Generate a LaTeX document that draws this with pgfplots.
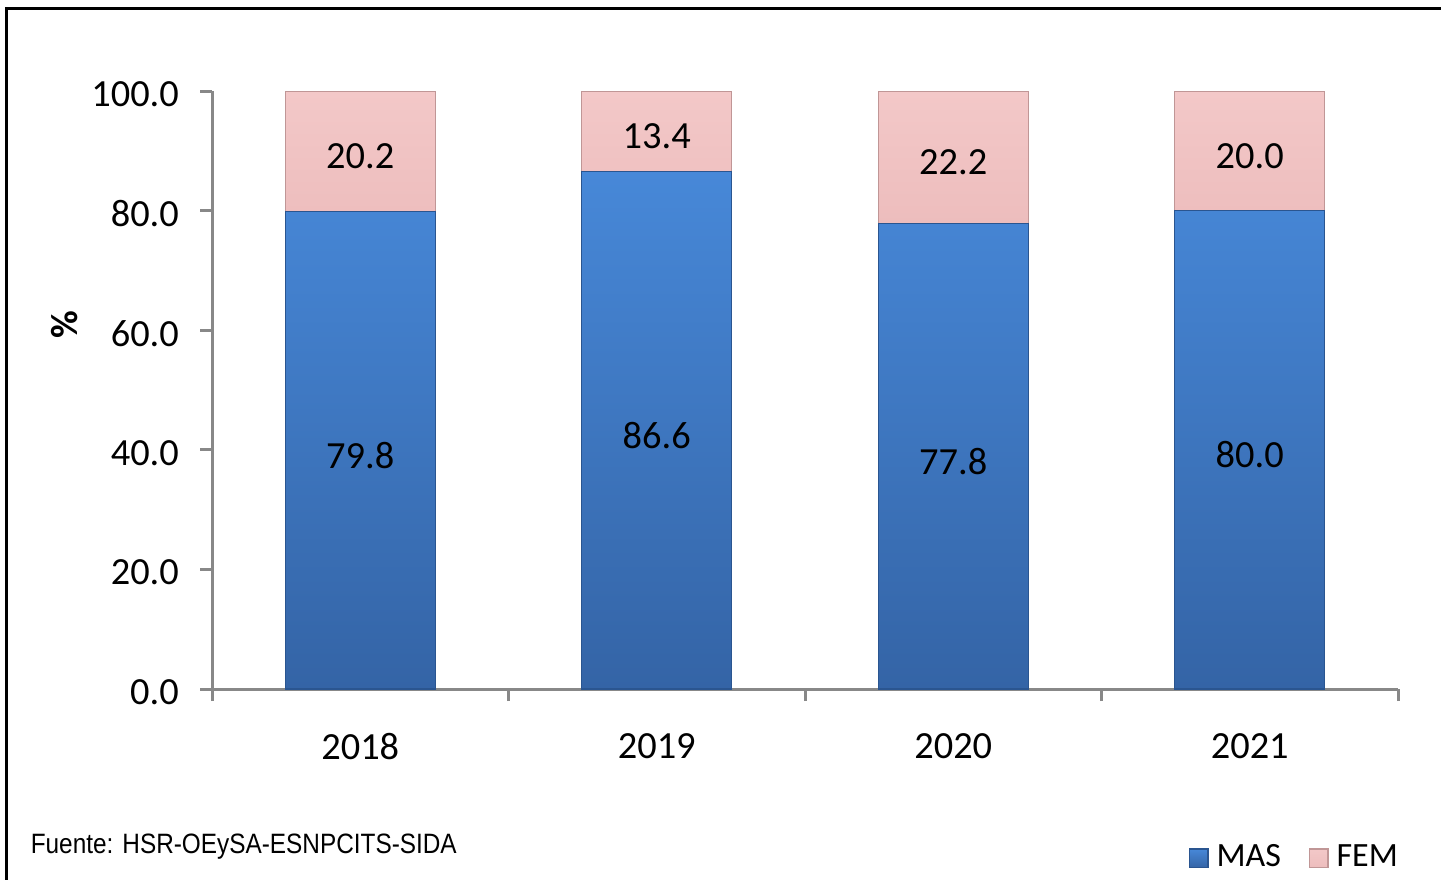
\documentclass[border=0pt]{standalone}
\usepackage{pgfplots}
\pgfplotsset{compat=1.18}
\usepackage{fontspec}
\setmainfont{Carlito}
\newfontfamily\arialfont{Liberation Sans}
\definecolor{bluetop}{HTML}{4788D8}
\definecolor{bluebot}{HTML}{3464A6}
\definecolor{blueedge}{HTML}{2A5590}
\definecolor{pinktop}{HTML}{F3C8C8}
\definecolor{pinkbot}{HTML}{EDBDBD}
\definecolor{pinkedge}{HTML}{C09696}
\definecolor{axisgray}{HTML}{888888}
\pgfplotstableread{
x mas fem
0 79.8 20.2
1 86.6 13.4
2 77.8 22.2
3 80.0 20.0
}\datatable
\begin{document}
\begin{tikzpicture}
\path[use as bounding box] (-53pt,-47.5pt) rectangle (307.25pt,172.25pt);
\draw[line width=0.75pt] (-51.25pt,-48pt) -- (-51.25pt,170pt) -- (308pt,170pt);
\begin{axis}[
  at={(0,0)}, anchor=south west,
  scale only axis, width=296.5pt, height=149.5pt,
  ybar stacked, bar width=37.5pt,
  xmin=-0.5, xmax=3.5, ymin=0, ymax=100,
  axis lines*=left,
  axis line style={axisgray, line width=0.75pt, -},
  every tick/.style={axisgray, line width=0.75pt},
  tick align=outside,
  major tick length=3pt,
  xtick={-0.5,0.5,1.5,2.5,3.5}, xticklabels={},
  extra x ticks={0,1,2,3},
  extra x tick labels={2018,2019,2020,2021},
  extra x tick style={major tick length=0pt, tick label style={yshift=-7.5pt}},
  ytick={0,20,40,60,80,100},
  /pgf/number format/assume math mode=true,
  yticklabel style={/pgf/number format/fixed, /pgf/number format/fixed zerofill, /pgf/number format/precision=1, xshift=-1.75pt, yshift=-0.8pt},
  tick label style={font=\fontsize{9.6}{11}\selectfont, text=black},
  ylabel={\textbf{\%}},
  ylabel style={at={(axis description cs:-0.124,0.61)}, anchor=center, font=\fontsize{9.5}{11}\selectfont},
  nodes near coords={\pgfmathprintnumber[fixed,fixed zerofill,precision=1]{\pgfplotspointmeta}},
  point meta=rawy,
  every node near coord/.append style={anchor=center, yshift=-1.3pt, font=\fontsize{9.6}{11}\selectfont, text=black},
  legend style={at={(axis description cs:0.813,-0.283)}, anchor=west, draw=none, fill=none,
    legend columns=2, font=\fontsize{8.5}{10}\selectfont,
    /tikz/every even column/.append style={column sep=5pt}},
  legend image code/.code={\draw[#1] (0pt,-2.3pt) rectangle (4.6pt,2.3pt);},
  legend cell align=left,
]
\addplot[top color=bluetop, bottom color=bluebot, draw=blueedge, line width=0.3pt] table[x=x, y=mas] {\datatable};
\addlegendentry{MAS}
\addplot[top color=pinktop, bottom color=pinkbot, draw=pinkedge, line width=0.3pt] table[x=x, y=fem] {\datatable};
\addlegendentry{FEM}
\end{axis}
\node[anchor=west, inner sep=0pt] at (-45.5pt,-39.5pt) {\arialfont\fontsize{7}{8}\selectfont\scalebox{0.87}[1]{Fuente: HSR-OEySA-ESNPCITS-SIDA}};
\end{tikzpicture}
\end{document}
